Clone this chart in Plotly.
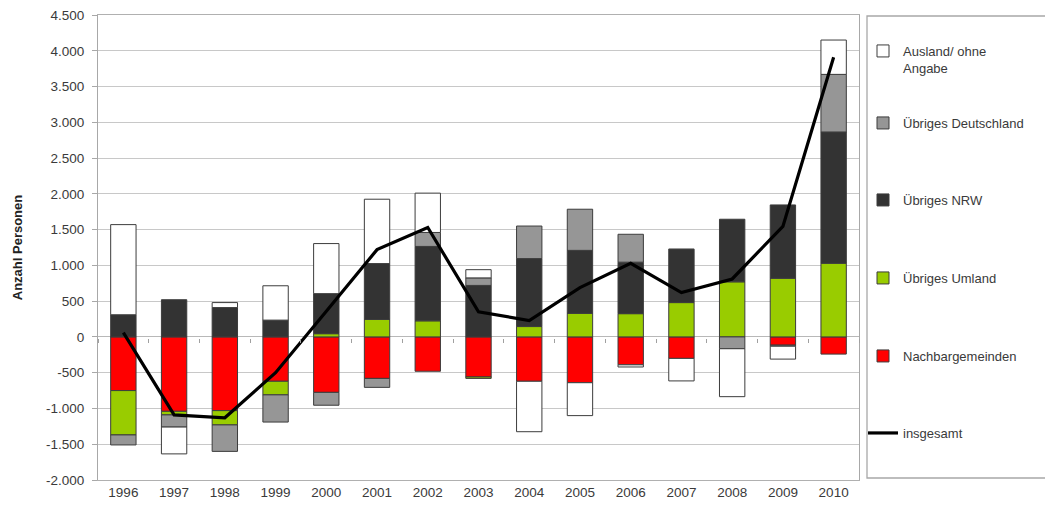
import plotly.graph_objects as go

years = ["1996", "1997", "1998", "1999", "2000", "2001", "2002", "2003",
         "2004", "2005", "2006", "2007", "2008", "2009", "2010"]

nachbargemeinden = [-750, -1040, -1030, -620, -775, -580, -480, -560,
                    -620, -640, -390, -300, 0, -115, -240]
uebriges_umland = [-620, -50, -200, -190, 45, 245, 225, -20,
                   145, 330, 325, 480, 770, 820, 1030]
uebriges_nrw = [310, 520, 410, 235, 560, 780, 1040, 720,
                950, 880, 720, 745, 875, 1025, 1835]
uebriges_deutschland = [-140, -170, -370, -380, -180, -125, 195, 105,
                        455, 575, 390, 0, -165, -15, 805]
ausland = [1260, -375, 70, 480, 700, 900, 550, 115,
           -705, -460, -30, -315, -670, -180, 480]
insgesamt = [60, -1090, -1130, -500, 360, 1220, 1530, 350,
             230, 690, 1030, 620, 810, 1545, 3910]

y_tickvals = [-2000, -1500, -1000, -500, 0, 500, 1000, 1500, 2000,
              2500, 3000, 3500, 4000, 4500]
y_ticktext = ["-2.000", "-1.500", "-1.000", "-500", "0", "500", "1.000",
              "1.500", "2.000", "2.500", "3.000", "3.500", "4.000", "4.500"]

FONT = "Liberation Sans, Arial, sans-serif"
TXT = "#3a3a3a"
OUTLINE = "#3c3c3c"

# the page body has an 8px margin; work in figure coordinates
OFF = 8
W, H = 1053 - OFF, 508 - OFF
PL, PR, PT, PB = 98 - OFF, 859 - OFF, 15 - OFF, 480 - OFF


def px_x(x):
    return (x - OFF - PL) / (PR - PL)


def px_y(y):
    return (PB - (y - OFF)) / (PB - PT)


fig = go.Figure()

bar_series = [
    ("Nachbargemeinden", nachbargemeinden, "#ff0000", "legend5"),
    ("Übriges Umland", uebriges_umland, "#99cc00", "legend4"),
    ("Übriges NRW", uebriges_nrw, "#333333", "legend3"),
    ("Übriges Deutschland", uebriges_deutschland, "#969696", "legend2"),
    ("Ausland/ ohne<br>Angabe", ausland, "#ffffff", "legend"),
]
for name, vals, col, leg in bar_series:
    fig.add_trace(go.Bar(
        x=years, y=vals, name=name, legend=leg,
        marker=dict(color=col, line=dict(color=OUTLINE, width=1)),
    ))

fig.add_trace(go.Scatter(
    x=years, y=insgesamt, name="insgesamt", mode="lines", legend="legend6",
    line=dict(color="#000000", width=3.2),
))

# legend entry centres in screen pixels
legend_centers = {"legend": 47, "legend2": 123, "legend3": 200,
                  "legend4": 278, "legend5": 356, "legend6": 433}
leg_common = dict(
    xref="container", yref="container",
    x=(863 - OFF) / W, xanchor="left", bgcolor="rgba(0,0,0,0)", borderwidth=0,
    font=dict(family=FONT, size=13, color=TXT), itemwidth=30,
)
layout_legends = {}
for key, cy in legend_centers.items():
    fy = cy - OFF
    if key == "legend":
        layout_legends[key] = dict(leg_common, y=1 - (fy - 11) / H,
                                   yanchor="top", valign="top")
    else:
        layout_legends[key] = dict(leg_common, y=1 - fy / H, yanchor="middle")

fig.update_layout(
    width=W, height=H,
    barmode="relative", bargap=0.5,
    paper_bgcolor="white", plot_bgcolor="white",
    margin=dict(l=PL, r=W - PR, t=PT, b=H - PB, autoexpand=False),
    font=dict(family=FONT, size=13, color=TXT),
    showlegend=True,
    **layout_legends,
    xaxis=dict(
        type="category", showgrid=False, showline=True, mirror=True,
        linecolor="#b0b0b0", linewidth=1, ticks="", automargin=False,
        tickfont=dict(family=FONT, size=13.5, color=TXT),
        ticklabeloverflow="allow",
    ),
    xaxis2=dict(
        overlaying="x", anchor="free", position=px_y(337.7), side="bottom",
        range=[-0.5, 14.5], tickvals=[i - 0.5 for i in range(16)],
        showticklabels=False, ticks="outside", ticklen=4, tickcolor="#a0a0a0",
        showline=False, showgrid=False, zeroline=False, automargin=False,
    ),
    yaxis=dict(
        range=[-2000, 4500], tickvals=y_tickvals, ticktext=y_ticktext,
        showgrid=True, gridcolor="#c8c8c8", gridwidth=1.3,
        zeroline=True, zerolinecolor="#b8b8b8", zerolinewidth=1.3,
        showline=True, mirror=True, linecolor="#a8a8a8", linewidth=1,
        ticks="outside", ticklen=5, tickcolor="#a8a8a8", automargin=False,
        ticklabeloverflow="allow", ticklabelstandoff=5,
        tickfont=dict(family=FONT, size=13.5, color=TXT),
        title=dict(text="<b>Anzahl Personen</b>", standoff=20,
                   font=dict(family=FONT, size=13, color="#222222")),
    ),
    shapes=[dict(
        type="rect", xref="paper", yref="paper",
        x0=px_x(867), x1=px_x(1051.5), y0=px_y(478), y1=px_y(16),
        line=dict(color="#a8a8a8", width=1.3), fillcolor="rgba(0,0,0,0)",
    )],
)

# invisible helper trace so the zero-line tick axis is drawn
fig.add_trace(go.Scatter(x=[0], y=[0], xaxis="x2", mode="markers",
                         marker=dict(opacity=0), showlegend=False,
                         hoverinfo="skip"))

fig.write_html("out.html")
